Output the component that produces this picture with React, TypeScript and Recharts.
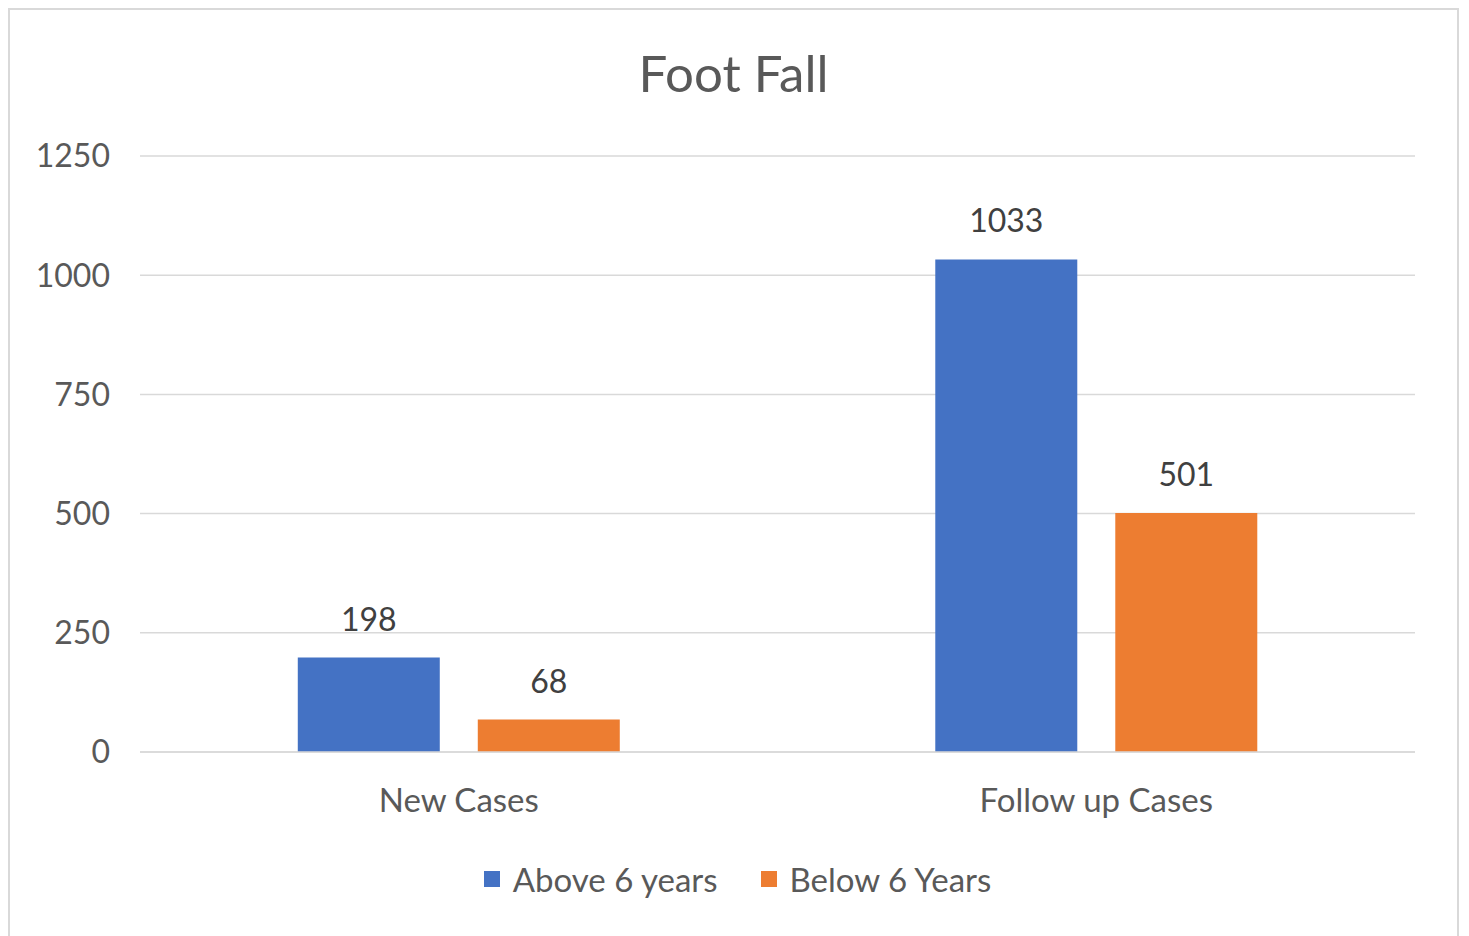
import React from "react";
import { BarChart, Bar, XAxis, YAxis, CartesianGrid, LabelList } from "recharts";

const categories = ["New Cases", "Follow up Cases"];
const above6 = [198, 1033];
const below6 = [68, 501];
const yTicks = [0, 250, 500, 750, 1000, 1250];
const seriesNames = ["Above 6 years", "Below 6 Years"];
const seriesColors = ["#4472C4", "#ED7D31"];

const data = categories.map((c, i) => ({ name: c, above: above6[i], below: below6[i] }));

const FONT = "Lato, 'Noto Sans', sans-serif";

export default function App() {
  return (
    <div
      style={{
        position: "relative",
        width: 1451,
        height: 940,
        border: "2px solid #d9d9d9",
        boxSizing: "border-box",
        background: "#fff",
        fontFamily: FONT,
      }}
    >
      <div
        style={{
          position: "absolute",
          left: 0,
          width: 1447,
          top: 36,
          textAlign: "center",
          fontSize: 51,
          color: "#595959",
          lineHeight: "54px",
        }}
      >
        Foot Fall
      </div>
      <BarChart
        width={1447}
        height={926}
        data={data}
        margin={{ top: 146, right: 42, left: 0, bottom: 124 }}
        barCategoryGap="24.75%"
        barGap={38}
      >
        <CartesianGrid vertical={false} stroke="#d9d9d9" strokeWidth={1.5} />
        <XAxis
          dataKey="name"
          height={60}
          tickLine={false}
          tickSize={0}
          tickMargin={37}
          axisLine={{ stroke: "#d9d9d9", strokeWidth: 1.5 }}
          tick={{ fill: "#595959", fontSize: 33, fontFamily: FONT }}
        />
        <YAxis
          width={130}
          domain={[0, 1250]}
          ticks={yTicks}
          tickLine={false}
          axisLine={false}
          tickSize={0}
          tickMargin={30}
          tick={{ fill: "#595959", fontSize: 32, fontFamily: FONT }}
        />
        <Bar dataKey="above" name={seriesNames[0]} fill={seriesColors[0]} isAnimationActive={false}>
          <LabelList dataKey="above" position="top" offset={27} fill="#404040" fontSize={32} fontFamily={FONT} />
        </Bar>
        <Bar dataKey="below" name={seriesNames[1]} fill={seriesColors[1]} isAnimationActive={false}>
          <LabelList dataKey="below" position="top" offset={27} fill="#404040" fontSize={32} fontFamily={FONT} />
        </Bar>
      </BarChart>
      <div
        style={{
          position: "absolute",
          left: 0,
          width: 1447,
          top: 849,
          display: "flex",
          justifyContent: "center",
          alignItems: "center",
          fontSize: 33,
          color: "#595959",
          paddingLeft: 8,
          boxSizing: "border-box",
        }}
      >
        {seriesNames.map((n, i) => (
          <div key={n} style={{ display: "flex", alignItems: "center", marginRight: i === 0 ? 43 : 0 }}>
            <span style={{ display: "inline-block", width: 16, height: 16, background: seriesColors[i], marginRight: 13 }} />
            <span>{n}</span>
          </div>
        ))}
      </div>
    </div>
  );
}
